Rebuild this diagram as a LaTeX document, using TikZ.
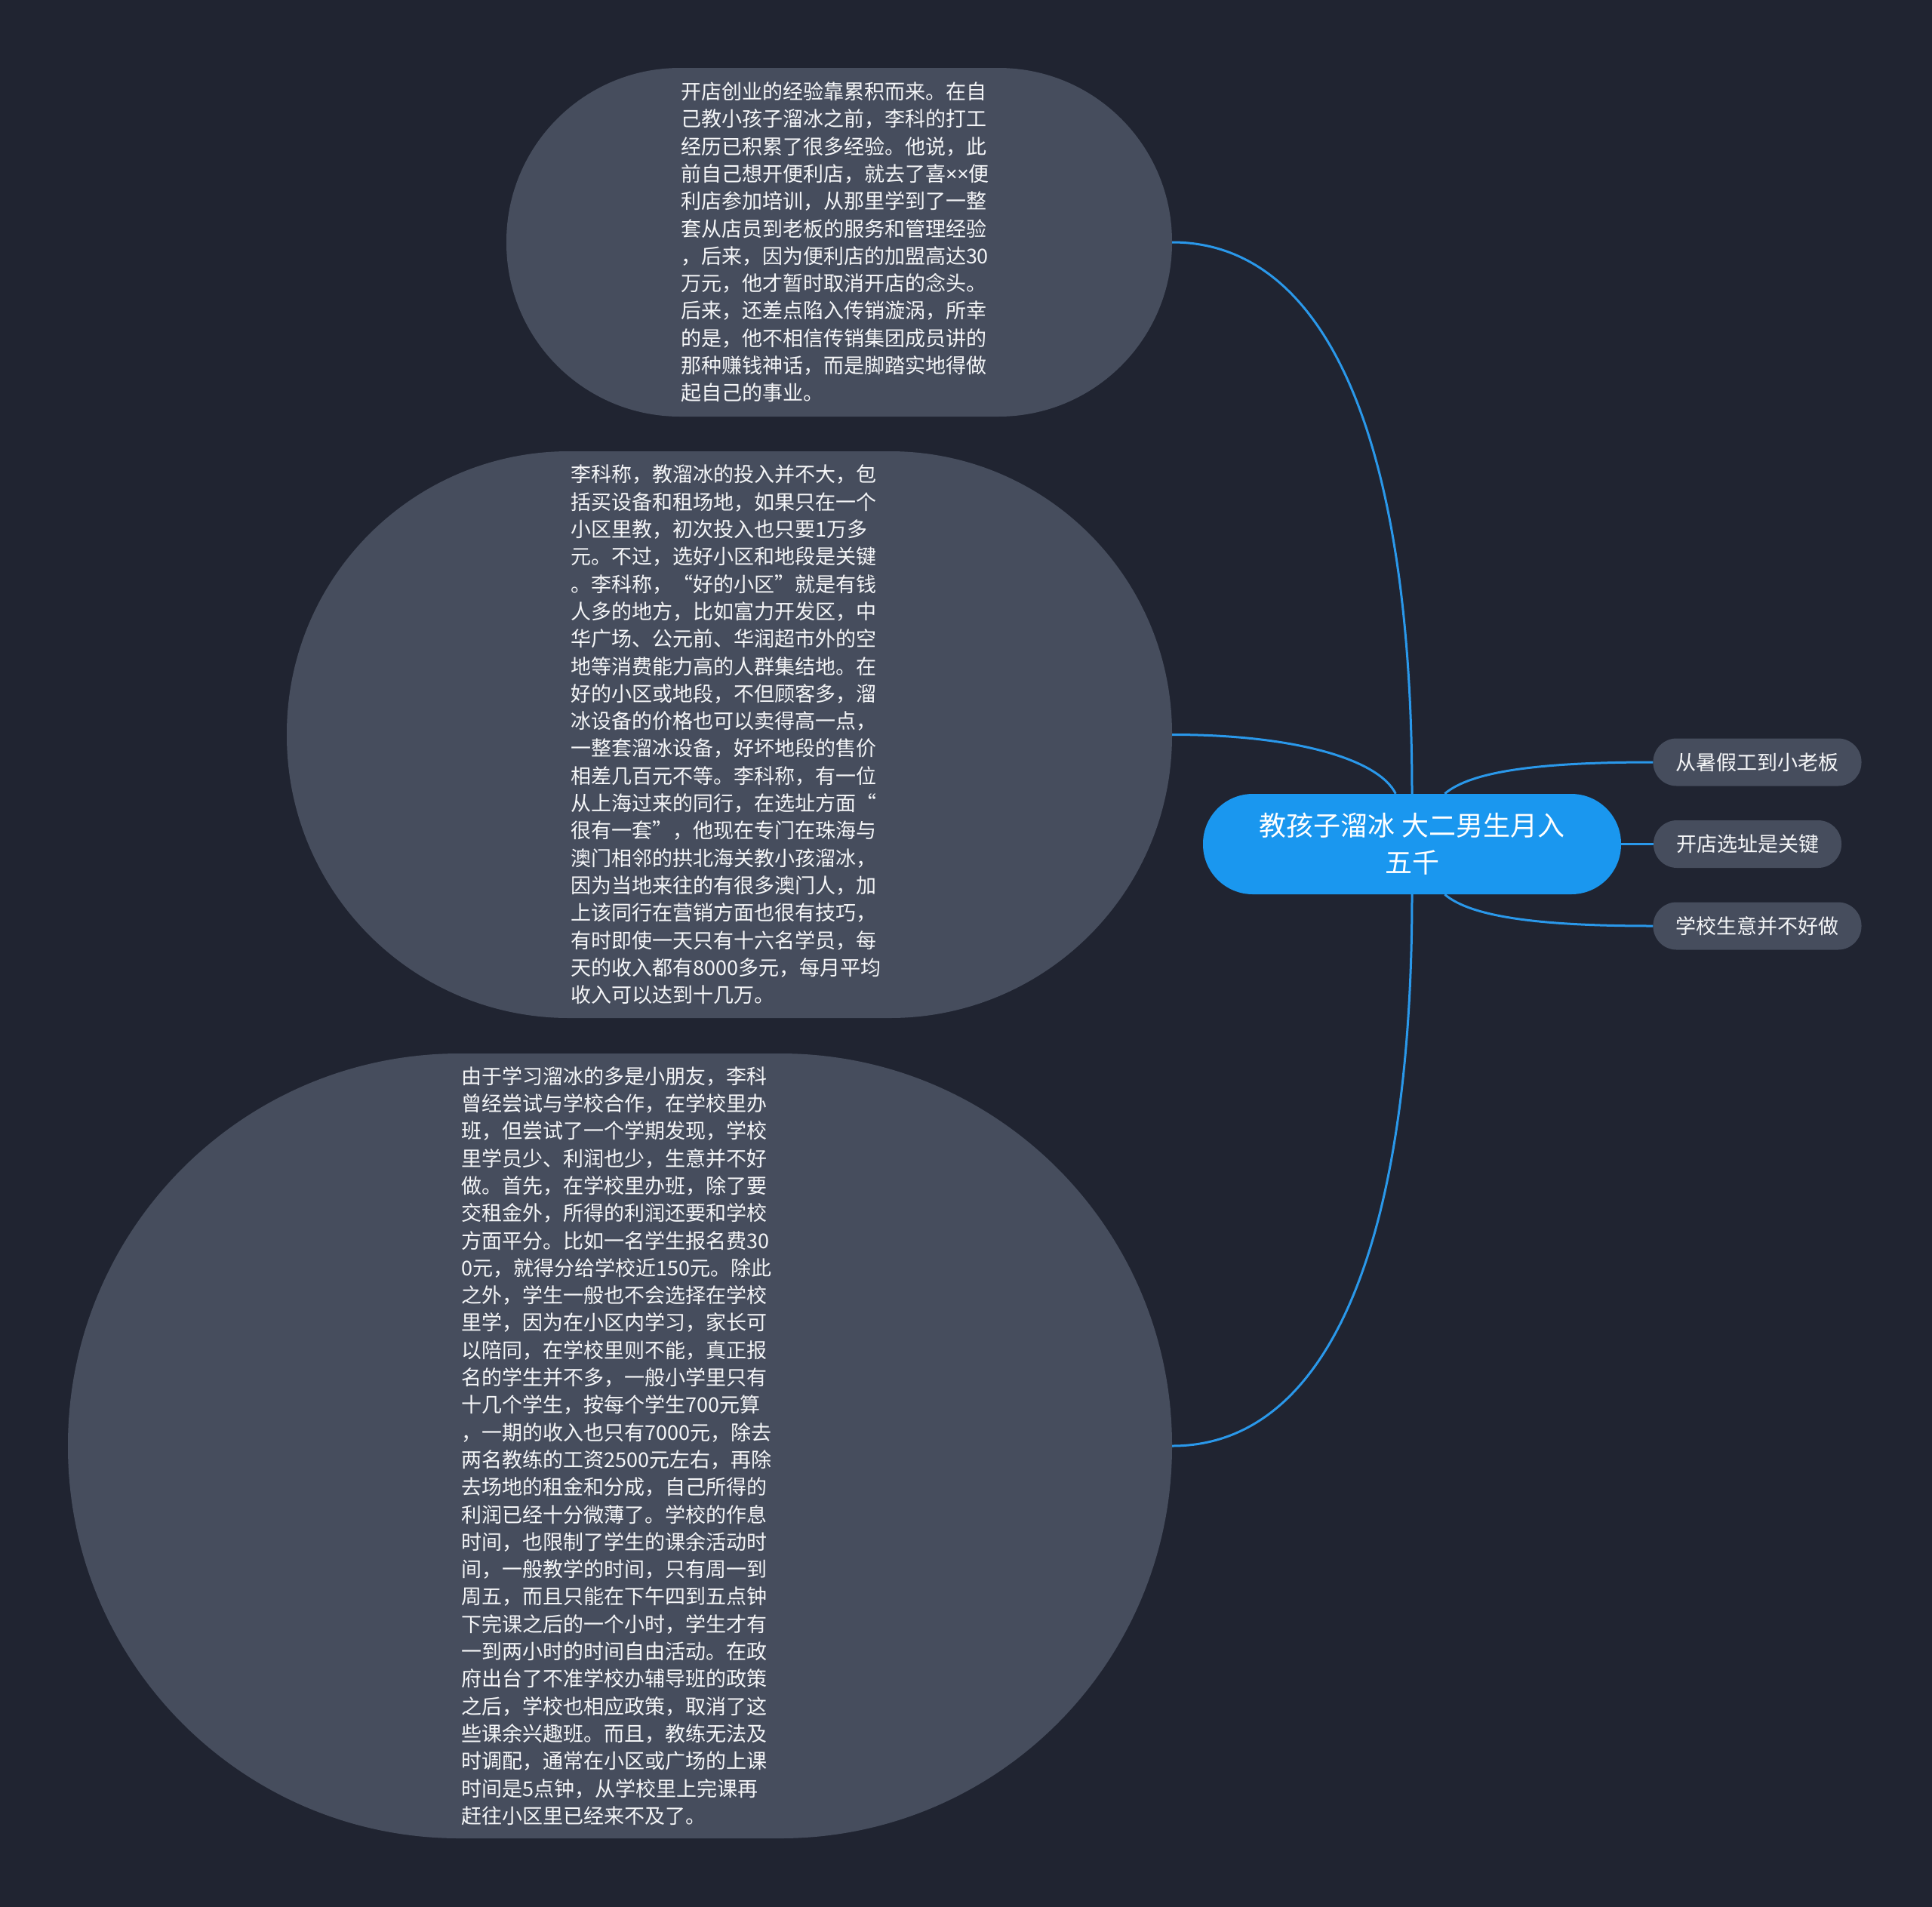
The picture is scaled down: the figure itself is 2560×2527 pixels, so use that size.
\documentclass[tikz,border=0pt]{standalone}
\usepackage{fontspec}
\setmainfont{Noto Sans CJK SC}
\newfontfamily\latinfont{Noto Sans}
\definecolor{bgc}{HTML}{202431}
\definecolor{nodegray}{HTML}{464D5D}
\definecolor{rootblue}{HTML}{1A97EF}
\definecolor{linkblue}{HTML}{2A98EA}
\definecolor{txt}{HTML}{F4F5F7}
\begin{document}
\begin{tikzpicture}[x=1pt,y=-1pt,
  bignode/.style={fill=nodegray, draw=none, text=txt, text width=420pt, align=left,
    font=\fontsize{27pt}{36.3pt}\selectfont, inner sep=0pt},
  rootnode/.style={fill=rootblue, draw=none, text=white, align=center,
    font=\fontsize{36pt}{49pt}\selectfont, minimum width=554pt, minimum height=133pt,
    rounded corners=66pt, inner sep=0pt},
  subnode/.style={fill=nodegray, draw=none, text=txt, font=\fontsize{27pt}{32pt}\selectfont,
    minimum height=63pt, inner xsep=30pt, inner ysep=0pt, rounded corners=31pt},
  link/.style={draw=linkblue, line width=3pt}
]
\fill[bgc] (0,0) rectangle (2560,2527);
\useasboundingbox (0,0) rectangle (2560,2527);

\node[bignode, minimum width=882pt, minimum height=462pt, rounded corners=230pt] (t1) at (1112,321) {开店创业的经验靠累积而来。在自\\
己教小孩子溜冰之前，李科的打工\\
经历已积累了很多经验。他说，此\\
前自己想开便利店，就去了喜{\latinfont ××}便\\
利店参加培训，从那里学到了一整\\
套从店员到老板的服务和管理经验\\
，后来，因为便利店的加盟高达30\\
万元，他才暂时取消开店的念头。\\
后来，还差点陷入传销漩涡，所幸\\
的是，他不相信传销集团成员讲的\\
那种赚钱神话，而是脚踏实地得做\\
起自己的事业。};

\node[bignode, minimum width=1173pt, minimum height=751pt, rounded corners=374pt] (t2) at (966.5,973.5) {李科称，教溜冰的投入并不大，包\\
括买设备和租场地，如果只在一个\\
小区里教，初次投入也只要1万多\\
元。不过，选好小区和地段是关键\\
。李科称，“好的小区”就是有钱\\
人多的地方，比如富力开发区，中\\
华广场、公元前、华润超市外的空\\
地等消费能力高的人群集结地。在\\
好的小区或地段，不但顾客多，溜\\
冰设备的价格也可以卖得高一点，\\
一整套溜冰设备，好坏地段的售价\\
相差几百元不等。李科称，有一位\\
从上海过来的同行，在选址方面“\\
很有一套”，他现在专门在珠海与\\
澳门相邻的拱北海关教小孩溜冰，\\
因为当地来往的有很多澳门人，加\\
上该同行在营销方面也很有技巧，\\
有时即使一天只有十六名学员，每\\
天的收入都有8000多元，每月平均\\
收入可以达到十几万。};

\node[bignode, minimum width=1463pt, minimum height=1040pt, rounded corners=519pt] (t3) at (821.5,1916) {由于学习溜冰的多是小朋友，李科\\
曾经尝试与学校合作，在学校里办\\
班，但尝试了一个学期发现，学校\\
里学员少、利润也少，生意并不好\\
做。首先，在学校里办班，除了要\\
交租金外，所得的利润还要和学校\\
方面平分。比如一名学生报名费30\\
0元，就得分给学校近150元。除此\\
之外，学生一般也不会选择在学校\\
里学，因为在小区内学习，家长可\\
以陪同，在学校里则不能，真正报\\
名的学生并不多，一般小学里只有\\
十几个学生，按每个学生700元算\\
，一期的收入也只有7000元，除去\\
两名教练的工资2500元左右，再除\\
去场地的租金和分成，自己所得的\\
利润已经十分微薄了。学校的作息\\
时间，也限制了学生的课余活动时\\
间，一般教学的时间，只有周一到\\
周五，而且只能在下午四到五点钟\\
下完课之后的一个小时，学生才有\\
一到两小时的时间自由活动。在政\\
府出台了不准学校办辅导班的政策\\
之后，学校也相应政策，取消了这\\
些课余兴趣班。而且，教练无法及\\
时调配，通常在小区或广场的上课\\
时间是5点钟，从学校里上完课再\\
赶往小区里已经来不及了。};

\node[rootnode] (c) at (1871,1118.5) {教孩子溜冰 大二男生月入\\五千};

\node[subnode] (r1) at (2328.5,1010) {从暑假工到小老板};
\node[subnode] (r2) at (2315.5,1118.5) {开店选址是关键};
\node[subnode] (r3) at (2328.5,1227) {学校生意并不好做};

\draw[link] (t1.east) .. controls +(200,0) and +(0,-480) .. (c.north);
\draw[link] (t2.east) .. controls +(165,0) and +(-22,-45) .. (c.108);
\draw[link] (t3.east) .. controls +(200,0) and +(0,480) .. (c.south);
\draw[link] (c.57) .. controls +(35,-30) and +(-150,0) .. (r1.west);
\draw[link] (c.east) -- (r2.west);
\draw[link] (c.-57) .. controls +(35,30) and +(-150,0) .. (r3.west);
\end{tikzpicture}
\end{document}
